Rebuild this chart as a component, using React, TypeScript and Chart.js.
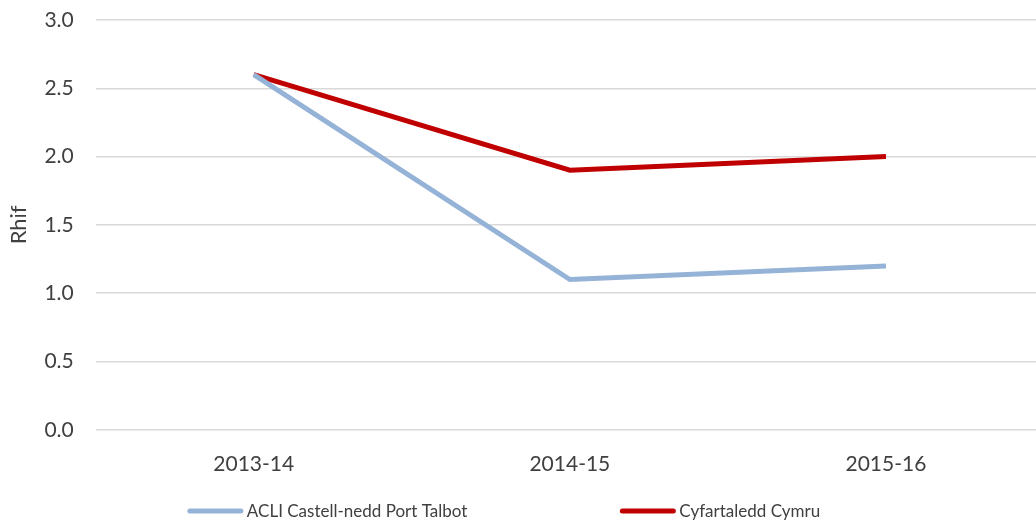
import React, { useEffect, useRef } from "react";
import { Chart, registerables } from "chart.js";

Chart.register(...registerables);

const categories = ["2013-14", "2014-15", "2015-16"];
const seriesNames = ["ACLI Castell-nedd Port Talbot", "Cyfartaledd Cymru"];
const localValues = [2.6, 1.1, 1.2];
const walesValues = [2.6, 1.9, 2.0];
const seriesColors = ["#95B3D7", "#C00000"];
const yTitle = "Rhif";

const FONT = "Lato, 'Open Sans', sans-serif";
const TEXT = "#404040";

const legendPlugin = {
  id: "customLegend",
  afterDraw(chart: any) {
    const ctx = chart.ctx;
    ctx.save();
    ctx.font = `17px ${FONT}`;
    ctx.textBaseline = "middle";
    const lineW = 55;
    const gap = 4;
    const itemGap = 153;
    const items = chart.data.datasets.map((d: any) => ({
      label: d.label,
      color: d.borderColor,
      w: lineW + gap + ctx.measureText(d.label).width,
    }));
    const total = items.reduce((s: number, it: any) => s + it.w, 0) + itemGap * (items.length - 1);
    let x = chart.width / 2 - 18 - total / 2;
    const y = 511;
    for (const it of items) {
      ctx.strokeStyle = it.color;
      ctx.lineWidth = 5;
      ctx.lineCap = "round";
      ctx.beginPath();
      ctx.moveTo(x + 2, y);
      ctx.lineTo(x + lineW - 2, y);
      ctx.stroke();
      ctx.fillStyle = TEXT;
      ctx.textAlign = "left";
      ctx.fillText(it.label, x + lineW + gap, y + 1);
      x += it.w + itemGap;
    }
    ctx.restore();
  },
};

export default function App() {
  const ref = useRef<HTMLCanvasElement>(null);
  useEffect(() => {
    document.body.style.margin = "0";
    const chart = new Chart(ref.current!, {
      type: "line",
      data: {
        labels: categories,
        datasets: [
          {
            label: seriesNames[0],
            data: localValues,
            borderColor: seriesColors[0],
            backgroundColor: seriesColors[0],
            borderWidth: 5,
            pointRadius: 0,
            tension: 0,
          },
          {
            label: seriesNames[1],
            data: walesValues,
            borderColor: seriesColors[1],
            backgroundColor: seriesColors[1],
            borderWidth: 5,
            pointRadius: 0,
            tension: 0,
          },
        ],
      },
      options: {
        responsive: false,
        animation: false,
        layout: { padding: { top: 0, left: 2, right: 0, bottom: 21 } },
        plugins: { legend: { display: false }, tooltip: { enabled: false } },
        scales: {
          x: {
            offset: true,
            grid: { display: false, drawTicks: false },
            border: { display: false },
            ticks: { color: TEXT, font: { family: FONT, size: 21 }, padding: 22, maxRotation: 0 },
          },
          y: {
            min: 0,
            max: 3,
            grid: { color: "#D9D9D9", lineWidth: 1.5, drawTicks: false },
            border: { display: false },
            ticks: {
              stepSize: 0.5,
              color: TEXT,
              font: { family: FONT, size: 21 },
              padding: 22,
              callback: (v: any) => Number(v).toFixed(1),
            },
            title: { display: true, text: yTitle, color: TEXT, font: { family: FONT, size: 22 }, padding: { top: 4, bottom: 2 } },
            afterFit: (s: any) => {
              s.width = s.width - 12;
              s.paddingTop = 20;
            },
          },
        },
      },
      plugins: [legendPlugin],
    });
    return () => chart.destroy();
  }, []);
  return (
    <div style={{ width: 1036, height: 520, overflow: "hidden" }}>
      <canvas ref={ref} width={1044} height={520} style={{ width: 1044, height: 520, display: "block" }} />
    </div>
  );
}
